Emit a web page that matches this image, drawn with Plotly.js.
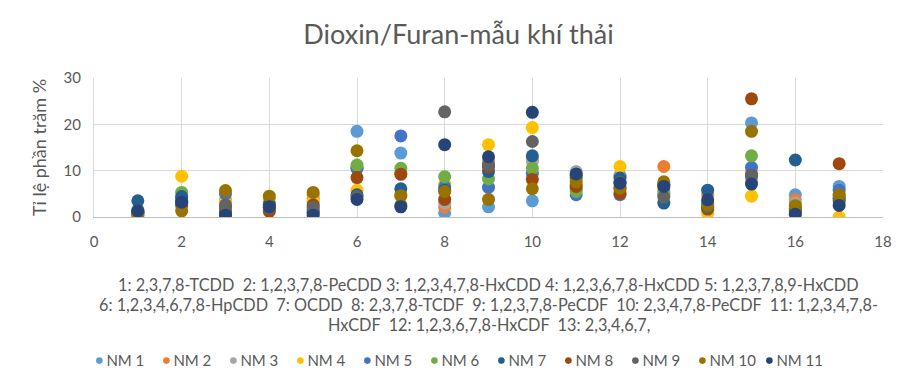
<!DOCTYPE html>
<html>
<head>
<meta charset="utf-8">
<script src="https://cdn.plot.ly/plotly-3.0.1.min.js"></script>
<style>html,body{margin:0;padding:0;background:#fff;}#chart{width:917px;height:392px;}</style>
</head>
<body>
<div id="chart"></div>
<script>
// Congener index (x axis)
const congeners = [1,2,3,4,5,6,7,8,9,10,11,12,13,14,15,16,17];
const seriesNames = ["NM 1","NM 2","NM 3","NM 4","NM 5","NM 6","NM 7","NM 8","NM 9","NM 10","NM 11"];
const seriesColors = ["#5B9BD5","#ED7D31","#A5A5A5","#FFC000","#4472C4","#70AD47","#255E91","#9E480E","#636363","#997300","#264478"];

// Percentage values per sample
const NM1  = [1.0, 3.5, 2.0, 2.0, 4.0, 18.5, 13.8, 0.9, 2.2, 3.5, 6.0, 9.0, 7.0, 1.5, 20.3, 4.8, 6.6];
const NM2  = [0.8, 3.0, 3.7, 1.5, 4.8, 10.5, 9.5, 2.1, 12.0, 12.5, 7.0, 6.0, 10.9, 4.8, 9.5, 3.7, 5.0];
const NM3  = [1.0, 3.5, 3.0, 2.5, 3.0, 10.8, 5.0, 3.0, 11.5, 12.0, 9.8, 8.9, 7.0, 2.5, 8.0, 3.0, 4.5];
const NM4  = [0.5, 8.8, 3.2, 3.8, 3.5, 5.8, 4.5, 7.1, 15.6, 19.3, 8.0, 10.9, 6.0, 0.8, 4.5, 2.0, 0.0];
const NM5  = [1.2, 4.0, 5.0, 2.8, 1.5, 10.5, 17.5, 6.5, 6.4, 9.4, 4.8, 4.8, 5.0, 3.0, 10.7, 1.5, 5.8];
const NM6  = [1.6, 5.3, 1.5, 2.0, 1.0, 11.2, 10.5, 8.7, 8.2, 10.5, 5.5, 6.5, 5.5, 2.0, 13.2, 2.5, 4.0];
const NM7  = [3.5, 4.4, 1.0, 2.6, 1.0, 4.8, 6.1, 5.8, 9.8, 13.2, 8.5, 8.4, 3.0, 5.8, 8.9, 12.3, 3.5];
const NM8  = [0.8, 2.5, 2.2, 1.2, 2.6, 8.5, 9.2, 3.8, 10.8, 8.1, 6.6, 5.1, 7.0, 1.7, 25.5, 1.8, 11.5];
const NM9  = [1.0, 3.0, 2.6, 2.0, 2.1, 4.4, 2.5, 22.7, 11.2, 16.3, 9.0, 7.5, 4.3, 2.2, 9.0, 1.2, 4.0];
const NM10 = [0.4, 1.3, 5.7, 4.5, 5.3, 14.3, 4.6, 5.5, 3.8, 6.1, 7.6, 6.2, 7.6, 2.6, 18.5, 2.4, 4.8];
const NM11 = [1.3, 3.2, 0.4, 2.2, 0.4, 3.8, 2.2, 15.6, 13.0, 22.6, 9.3, 7.3, 6.6, 3.7, 7.1, 0.6, 2.5];
const seriesValues = [NM1, NM2, NM3, NM4, NM5, NM6, NM7, NM8, NM9, NM10, NM11];

const xTicks = [0,2,4,6,8,10,12,14,16,18];
const yTicks = [0,10,20,30];

const chartTitle = "Dioxin/Furan-mẫu khí thải";
const yTitle = "Tỉ lệ phần trăm %";
const captionLines = [
  "1: 2,3,7,8-TCDD&nbsp;&nbsp;2: 1,2,3,7,8-PeCDD&nbsp;3: 1,2,3,4,7,8-HxCDD&nbsp;4: 1,2,3,6,7,8-HxCDD&nbsp;5: 1,2,3,7,8,9-HxCDD",
  "6: 1,2,3,4,6,7,8-HpCDD&nbsp;&nbsp;7: OCDD&nbsp;&nbsp;8: 2,3,7,8-TCDF&nbsp;&nbsp;9: 1,2,3,7,8-PeCDF&nbsp;&nbsp;10: 2,3,4,7,8-PeCDF&nbsp;&nbsp;11: 1,2,3,4,7,8-",
  "HxCDF&nbsp;&nbsp;12: 1,2,3,6,7,8-HxCDF&nbsp;&nbsp;13: 2,3,4,6,7,"
];

const FONT = "Lato, sans-serif";
const TXT = "#595959";

const traces = seriesNames.map((name, i) => ({
  type: "scatter",
  mode: "markers",
  name: name,
  x: congeners,
  y: seriesValues[i],
  marker: {color: seriesColors[i], size: 13}
}));

const layout = {
  width: 917, height: 392,
  margin: {l: 94, r: 34, t: 78, b: 175},
  paper_bgcolor: "#fff", plot_bgcolor: "#fff",
  font: {family: FONT, color: TXT, size: 13},
  title: {text: chartTitle, font: {family: FONT, size: 27, color: TXT}, x: 0.5, xanchor: "center", y: 0.912, yanchor: "middle"},
  xaxis: {
    range: [0, 18], tickvals: xTicks, ticktext: xTicks.map(String),
    showgrid: true, gridcolor: "#D9D9D9", gridwidth: 1,
    zeroline: false, showline: true, linecolor: "#BFBFBF", linewidth: 1, mirror: false,
    ticks: "", ticklabelstandoff: 11,
    tickfont: {family: FONT, size: 15, color: TXT}
  },
  yaxis: {
    range: [0, 30], tickvals: yTicks, ticktext: yTicks.map(String),
    showgrid: true, gridcolor: "#D9D9D9", gridwidth: 1,
    zeroline: false, showline: true, linecolor: "#D9D9D9", linewidth: 1,
    ticks: "", ticklabelstandoff: 9,
    tickfont: {family: FONT, size: 15, color: TXT},
    title: {text: yTitle, font: {family: FONT, size: 18, color: TXT}, standoff: 12}
  },
  showlegend: true,
  legend: {
    orientation: "h", x: -0.035, xanchor: "left", y: -1.035, yanchor: "middle",
    font: {family: FONT, size: 15, color: TXT},
    itemwidth: 30, entrywidth: 22, entrywidthmode: "pixels", itemsizing: "constant",
    traceorder: "normal", borderwidth: 0
  },
  annotations: captionLines.map((line, k) => ({
    xref: "paper", yref: "paper", x: 0.5, y: 0, xanchor: "center", yanchor: "middle",
    yshift: -(67 + 20 * k), showarrow: false, align: "center",
    text: line,
    font: {family: FONT, size: 16.3, color: TXT}
  }))
};

Plotly.newPlot("chart", traces, layout, {displayModeBar: false, staticPlot: true}).then(() => {
  // Excel-like small legend dots placed next to their text
  document.querySelectorAll("#chart .legendpoints path.scatterpts").forEach(p => {
    p.setAttribute("transform", "translate(33,0) scale(0.55)");
  });
  // let the last legend label extend beyond the fixed entry width
  document.querySelectorAll("#chart .legend .scrollbox, #chart .legend").forEach(el => {
    el.removeAttribute("clip-path");
    el.style.clipPath = "none";
  });
});
</script>
</body>
</html>
